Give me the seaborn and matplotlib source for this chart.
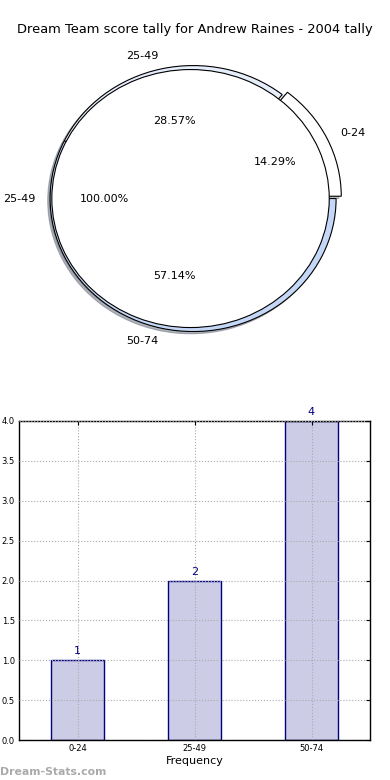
import seaborn as sns
import matplotlib.pyplot as plt
import pandas as pd

# score tally data
ranges = ["0-24", "25-49", "50-74"]
counts = [1, 2, 4]
inner_labels = ["25-49"]
inner_counts = [1]
ring_colors = ["#ffffff", "#e6eefc", "#c5d7f6"]

sns.set_style("white")
plt.rcParams["font.family"] = ["DejaVu Sans"]
plt.rcParams.update({"text.color": "black", "axes.labelcolor": "black",
                     "xtick.color": "black", "ytick.color": "black"})

fig = plt.figure(figsize=(3.9, 7.8), dpi=100)
fig.text(0.5, 1 - 30 / 780, "Dream Team score tally for Andrew Raines - 2004 tally",
         ha="center", va="center", fontsize=9.4)

# top: pie of the tally
shadow = {"ox": -0.012, "oy": -0.012, "shade": 0.5}
ax1 = fig.add_axes([0.0185, 0.5238, 0.9533, 0.4433])
ax1.pie(counts, labels=ranges, colors=ring_colors, explode=[0.04, 0, 0],
        autopct="%1.2f%%", shadow=shadow, startangle=0,
        labeldistance=1.1, pctdistance=0.6,
        wedgeprops=dict(edgecolor="black", linewidth=0.8),
        textprops=dict(fontsize=8))
ax1.pie(inner_counts, labels=inner_labels, colors=["white"], radius=0.97,
        center=(-0.018, 0), autopct="%1.2f%%", shadow=shadow, startangle=0,
        labeldistance=1.12, pctdistance=0.62,
        wedgeprops=dict(edgecolor="black", linewidth=0.8),
        textprops=dict(fontsize=8))
ax1.set_aspect("auto")
ax1.set_xlim(-1.3, 1.3)
ax1.set_ylim(-1.3, 1.3)
ax1.axis("off")

# bottom: bar chart of the same counts
df = pd.DataFrame({"range": ranges, "count": counts})
ax2 = fig.add_axes([19 / 390, 40 / 780, 351 / 390, 319 / 780])
sns.barplot(data=df, x="range", y="count", ax=ax2, width=0.45,
            color="#ccccE6", saturation=1, edgecolor="navy", linewidth=1)
for i, v in enumerate(counts):
    ax2.text(i, v + 0.05, str(v), ha="center", va="bottom", color="navy", fontsize=8)

ax2.set_xlim(-0.5, 2.5)
ax2.set_ylim(0, 4)
ax2.set_yticks([0, 0.5, 1, 1.5, 2, 2.5, 3, 3.5, 4])
ax2.set_yticklabels(["0.0", "0.5", "1.0", "1.5", "2.0", "2.5", "3.0", "3.5", "4.0"])
ax2.grid(True, linestyle=":", color="#aaaaaa", linewidth=0.8)
ax2.set_axisbelow(False)
ax2.tick_params(direction="in", labelsize=6, length=3, pad=3,
                top=True, right=True)
ax2.set_xlabel("Frequency", fontsize=8, labelpad=2)
ax2.set_ylabel("")
for s in ax2.spines.values():
    s.set_visible(True)
    s.set_color("black")
    s.set_linewidth(1)

fig.text(0.0, 0.004, "Dream-Stats.com", color="#aaaaaa", fontsize=7.8,
         fontweight="bold", ha="left", va="bottom")

plt.savefig("out.png", dpi=100)
